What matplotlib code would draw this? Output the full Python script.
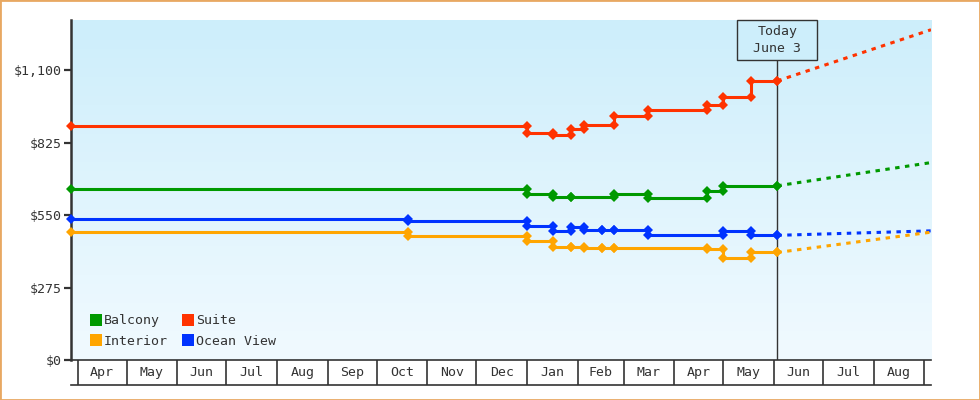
import matplotlib
matplotlib.use("Agg")
import matplotlib.pyplot as plt
import matplotlib.dates as mdates
import matplotlib.transforms as mtransforms
from matplotlib.lines import Line2D
from matplotlib.patches import Rectangle
import numpy as np
import pandas as pd

plt.rcParams["font.family"] = ["DejaVu Sans Mono", "DejaVu Sans"]

# price history: change dates and the price from that date on
BALCONY_DATES = ["2024-03-28", "2025-01-01", "2025-01-17", "2025-01-28", "2025-02-23",
                 "2025-03-16", "2025-04-21", "2025-05-01", "2025-06-03"]
BALCONY_PRICES = [650, 630, 617, 617, 630, 614, 640, 661, 661]

SUITE_DATES = ["2024-03-28", "2025-01-01", "2025-01-17", "2025-01-28", "2025-02-05",
               "2025-02-23", "2025-03-16", "2025-04-21", "2025-05-01", "2025-05-18", "2025-06-03"]
SUITE_PRICES = [887, 862, 852, 877, 892, 927, 949, 968, 998, 1059, 1059]

OCEAN_DATES = ["2024-03-28", "2024-10-20", "2025-01-01", "2025-01-17", "2025-01-28", "2025-02-05",
               "2025-02-16", "2025-02-23", "2025-03-16", "2025-05-01", "2025-05-18", "2025-06-03"]
OCEAN_PRICES = [535, 526, 509, 488, 505, 494, 494, 494, 473, 491, 473, 473]

INTERIOR_DATES = ["2024-03-28", "2024-10-20", "2025-01-01", "2025-01-17", "2025-01-28", "2025-02-05",
                  "2025-02-16", "2025-02-23", "2025-04-21", "2025-05-01", "2025-05-18", "2025-06-03"]
INTERIOR_PRICES = [485, 471, 450, 427, 427, 426, 424, 425, 421, 387, 408, 408]

# dotted forecast from today to the end of the window
TODAY = "2025-06-03"
FORECAST_END = "2025-09-05"
FORECAST_PRICES = {"Balcony": 749, "Suite": 1253, "Ocean View": 490, "Interior": 485}

MONTH_LABELS = ["Apr", "May", "Jun", "Jul", "Aug", "Sep", "Oct", "Nov", "Dec",
                "Jan", "Feb", "Mar", "Apr", "May", "Jun", "Jul", "Aug"]
Y_TICKS = [0, 275, 550, 825, 1100]
Y_LABELS = ["$0", "$275", "$550", "$825", "$1,100"]

SERIES = [
    ("Balcony", BALCONY_DATES, BALCONY_PRICES, "#009900"),
    ("Suite", SUITE_DATES, SUITE_PRICES, "#ff3300"),
    ("Ocean View", OCEAN_DATES, OCEAN_PRICES, "#0033ff"),
    ("Interior", INTERIOR_DATES, INTERIOR_PRICES, "#ffa500"),
]
INK = "#333333"


def step_points(dates, prices):
    d = pd.to_datetime(dates)
    xs, ys = [d[0]], [prices[0]]
    for i in range(1, len(d)):
        xs += [d[i], d[i]]
        ys += [prices[i - 1], prices[i]]
    return xs, ys


fig = plt.figure(figsize=(9.8, 4.0), dpi=100)
ax = fig.add_axes([71 / 980, 40 / 400, 860 / 980, 340 / 400])
band = fig.add_axes([71 / 980, 15 / 400, 860 / 980, 25 / 400])

x0, x1 = pd.Timestamp("2024-03-28"), pd.Timestamp(FORECAST_END)
ax.set_xlim(x0, x1); ax.set_ylim(0, 1290)

# gradient background
grad = np.linspace(0, 1, 256).reshape(-1, 1)
top, bot = np.array([205, 238, 251]) / 255, np.array([241, 250, 255]) / 255
img = top + (bot - top) * grad[..., None]
ax.imshow(img, extent=[0, 1, 0, 1], transform=ax.transAxes, aspect="auto", zorder=0)

today = pd.Timestamp(TODAY)
ax.axvline(today, color=INK, lw=1, zorder=1)

for name, dates, prices, color in SERIES:
    xs, ys = step_points(dates, prices)
    ax.plot(xs, ys, color=color, lw=2.2, marker="D", ms=5.4, mew=0, zorder=3, clip_on=False)
    ax.plot([today, x1], [prices[-1], FORECAST_PRICES[name]], color=color, lw=2.2,
            linestyle=(0, (1.45, 1.8)), zorder=2)

# today box
half = 24.4
blend = mtransforms.blended_transform_factory(ax.transData, ax.transAxes)
tn = mdates.date2num(today)
ax.add_patch(Rectangle((tn - half, 1 - 40 / 340), 2 * half, 40 / 340, transform=blend,
                       facecolor="#cdeefb", edgecolor=INK, lw=1, zorder=4, clip_on=False))
ax.text(tn, 1 - 20 / 340, "Today\nJune 3", transform=blend, ha="center", va="center",
        fontsize=9.5, color=INK, linespacing=1.45, zorder=5)

ax.set_yticks(Y_TICKS, Y_LABELS)
ax.tick_params(axis="y", length=5, width=1.6, color=INK, labelcolor=INK, labelsize=9.5, pad=2)
ax.set_xticks([])
for s in ["top", "right"]:
    ax.spines[s].set_visible(False)
ax.spines["left"].set_color(INK); ax.spines["left"].set_linewidth(1.8)
ax.spines["bottom"].set_color(INK); ax.spines["bottom"].set_linewidth(1.2)

handles = [Line2D([], [], ls="none", marker="s", ms=8, mew=0, color=c) for _, _, _, c in SERIES]
labels = [n for n, _, _, _ in SERIES]
order = [0, 3, 1, 2]
leg = ax.legend([handles[i] for i in order], [labels[i] for i in order], ncol=2, loc="lower left",
                bbox_to_anchor=(0.022, 0.035), frameon=False, borderpad=0, borderaxespad=0,
                handlelength=0.9, handletextpad=0.15, columnspacing=1.1, labelspacing=0.6,
                fontsize=9.5)
for t in leg.get_texts():
    t.set_color(INK)

# month band below the plot
band.set_xlim(x0, x1); band.set_ylim(0, 1)
months = pd.date_range("2024-04-01", periods=len(MONTH_LABELS) + 1, freq="MS")
for m in months:
    band.axvline(m, color=INK, lw=1.2)
for i, lab in enumerate(MONTH_LABELS):
    mid = months[i] + (months[i + 1] - months[i]) / 2
    band.text(mid, 0.5, lab, ha="center", va="center", fontsize=9.5, color=INK)
band.set_xticks([]); band.set_yticks([])
for s in ["top", "left", "right"]:
    band.spines[s].set_visible(False)
band.spines["bottom"].set_color(INK); band.spines["bottom"].set_linewidth(1.2)
band.patch.set_alpha(0)

fig.patches.append(Rectangle((0, 0), 1, 1, transform=fig.transFigure, fill=False,
                             edgecolor="#e8a862", lw=2))
fig.savefig("out.png", dpi=100)
